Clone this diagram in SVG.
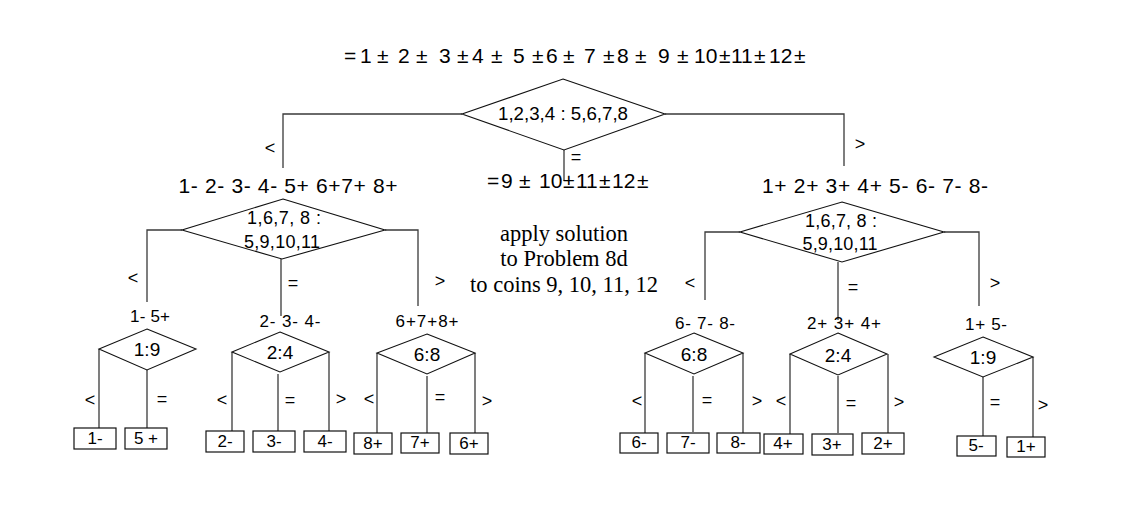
<svg xmlns="http://www.w3.org/2000/svg" width="1132" height="505" viewBox="0 0 1132 505">
<style>
text{font-family:"Liberation Sans",Arial,sans-serif;fill:#000}
.serif{font-family:"Liberation Serif","Times New Roman",serif;font-size:22.5px;text-anchor:middle}
.eq{font-size:21px}
.lvl{font-size:21px;text-anchor:middle}
.dt{font-size:18px;text-anchor:middle}
.d3{font-size:19px;text-anchor:middle}
.lab{font-size:18px;text-anchor:middle}
.sub{font-size:17px;text-anchor:middle}
.bx{font-size:17px;text-anchor:middle}
.dia{fill:none;stroke:#111;stroke-width:1.1}
.box{fill:#fff;stroke:#111;stroke-width:1.2}
.con{fill:none;stroke:#3a3a3a;stroke-width:1.3}
</style>
<rect width="1132" height="505" fill="#fff"/>

<g id="top-equation">
<text class="eq" y="63"><tspan x="344">=</tspan><tspan x="360">1</tspan><tspan x="377">±</tspan><tspan x="398">2</tspan><tspan x="416">±</tspan><tspan x="439">3</tspan><tspan x="457">±</tspan><tspan x="472">4</tspan><tspan x="491">±</tspan><tspan x="513">5</tspan><tspan x="532">±</tspan><tspan x="546">6</tspan><tspan x="563">±</tspan><tspan x="584">7</tspan><tspan x="603">±</tspan><tspan x="617">8</tspan><tspan x="635">±</tspan><tspan x="658">9</tspan><tspan x="677">±</tspan><tspan x="694">10</tspan><tspan x="719">±</tspan><tspan x="731">11</tspan><tspan x="754">±</tspan><tspan x="769">12</tspan><tspan x="794">±</tspan></text>
</g>

<g id="connectors">
<polyline class="con" points="462,114 283,114 283,168"/>
<polyline class="con" points="665,114 844,114 844,166"/>
<line class="con" x1="564" y1="150" x2="564" y2="181"/>
<polyline class="con" points="182,230 147,230 147,302"/>
<polyline class="con" points="385,230 418,230 418,306"/>
<line class="con" x1="281" y1="259" x2="281" y2="316"/>
<polyline class="con" points="740,232 705,232 705,300"/>
<polyline class="con" points="944,232 979,232 979,306"/>
<line class="con" x1="838" y1="262" x2="838" y2="320"/>
<line class="con" x1="99" y1="349" x2="99" y2="430"/>
<line class="con" x1="147" y1="370" x2="147" y2="428"/>
<line class="con" x1="232" y1="352" x2="232" y2="437"/>
<line class="con" x1="278" y1="374" x2="278" y2="431"/>
<line class="con" x1="329" y1="352" x2="329" y2="435"/>
<line class="con" x1="377" y1="353" x2="377" y2="433"/>
<line class="con" x1="427" y1="376" x2="427" y2="433"/>
<line class="con" x1="475" y1="353" x2="475" y2="433"/>
<line class="con" x1="645" y1="353" x2="645" y2="433"/>
<line class="con" x1="693" y1="376" x2="693" y2="432"/>
<line class="con" x1="743" y1="353" x2="743" y2="433"/>
<line class="con" x1="790" y1="354" x2="790" y2="437"/>
<line class="con" x1="838" y1="376" x2="838" y2="433"/>
<line class="con" x1="888" y1="354" x2="888" y2="437"/>
<line class="con" x1="983" y1="377" x2="983" y2="436"/>
<line class="con" x1="1033" y1="357" x2="1033" y2="437"/>

<text class="lab" x="270" y="154">&lt;</text>
<text class="lab" x="860" y="150">&gt;</text>
<text class="lab" x="576" y="163">=</text>
<text class="lab" x="133" y="284">&lt;</text>
<text class="lab" x="293" y="289">=</text>
<text class="lab" x="440" y="287">&gt;</text>
<text class="lab" x="690" y="289">&lt;</text>
<text class="lab" x="853" y="293">=</text>
<text class="lab" x="995" y="289">&gt;</text>
<text class="lab" x="90" y="406">&lt;</text>
<text class="lab" x="162" y="405">=</text>
<text class="lab" x="222" y="406">&lt;</text>
<text class="lab" x="290" y="406">=</text>
<text class="lab" x="341" y="405">&gt;</text>
<text class="lab" x="369" y="405">&lt;</text>
<text class="lab" x="440" y="403">=</text>
<text class="lab" x="487" y="407">&gt;</text>
<text class="lab" x="637" y="407">&lt;</text>
<text class="lab" x="707" y="406">=</text>
<text class="lab" x="757" y="407">&gt;</text>
<text class="lab" x="781" y="407">&lt;</text>
<text class="lab" x="851" y="409">=</text>
<text class="lab" x="899" y="408">&gt;</text>
<text class="lab" x="995" y="408">=</text>
<text class="lab" x="1043" y="411">&gt;</text>
</g>

<g id="root">
<polygon class="dia" points="563,79 665,114 564,150 462,114"/>
<text class="dt" x="563" y="120" textLength="130" lengthAdjust="spacingAndGlyphs">1,2,3,4 : 5,6,7,8</text>
</g>

<g id="left-state">
<text class="lvl" x="288" y="193" textLength="219" lengthAdjust="spacing">1- 2- 3- 4- 5+ 6+7+ 8+</text>
</g>

<g id="middle-state">
<text class="eq" y="188"><tspan x="487">=</tspan><tspan x="501">9</tspan><tspan x="519">±</tspan><tspan x="539">10</tspan><tspan x="563">±</tspan><tspan x="576">11</tspan><tspan x="599">±</tspan><tspan x="612">12</tspan><tspan x="637">±</tspan></text>
</g>

<g id="right-state">
<text class="lvl" x="875" y="193" textLength="226" lengthAdjust="spacing">1+ 2+ 3+ 4+ 5- 6- 7- 8-</text>
</g>

<g id="apply-note">
<text class="serif" x="564" y="241">apply solution</text>
<text class="serif" x="564" y="266">to Problem 8d</text>
<text class="serif" x="564" y="292">to coins 9, 10, 11, 12</text>
</g>

<g id="left-weigh">
<polygon class="dia" points="283,199 385,230 282,259 182,230"/>
<text class="dt" x="284" y="224" textLength="74" lengthAdjust="spacing">1,6,7, 8 :</text>
<text class="dt" x="282" y="248" textLength="76" lengthAdjust="spacing">5,9,10,11</text>
</g>

<g id="right-weigh">
<polygon class="dia" points="842,202 944,232 842,262 740,232"/>
<text class="dt" x="841" y="227" textLength="72" lengthAdjust="spacing">1,6,7, 8 :</text>
<text class="dt" x="840" y="250" textLength="75" lengthAdjust="spacing">5,9,10,11</text>
</g>

<g id="L1-9">
<text class="sub" x="150" y="322" textLength="40" lengthAdjust="spacing">1- 5+</text>
<polygon class="dia" points="147,329 196,349 147,370 99,349"/>
<text class="d3" x="147" y="356">1:9</text>
</g>
<g id="L2-4">
<text class="sub" x="290" y="327" textLength="61" lengthAdjust="spacing">2- 3- 4-</text>
<polygon class="dia" points="280,332 329,352 280,372 232,352"/>
<text class="d3" x="280" y="359">2:4</text>
</g>
<g id="L6-8">
<text class="sub" x="427" y="327" textLength="63" lengthAdjust="spacing">6+7+8+</text>
<polygon class="dia" points="427,334 475,353 427,374 377,353"/>
<text class="d3" x="427" y="361">6:8</text>
</g>
<g id="R6-8">
<text class="sub" x="705" y="329" textLength="60" lengthAdjust="spacing">6- 7- 8-</text>
<polygon class="dia" points="694,333 743,353 694,374 645,353"/>
<text class="d3" x="694" y="361">6:8</text>
</g>
<g id="R2-4">
<text class="sub" x="844" y="329" textLength="74" lengthAdjust="spacing">2+ 3+ 4+</text>
<polygon class="dia" points="838,333 887,354 838,375 790,354"/>
<text class="d3" x="838" y="362">2:4</text>
</g>
<g id="R1-9">
<text class="sub" x="986" y="330" textLength="42" lengthAdjust="spacing">1+ 5-</text>
<polygon class="dia" points="983,337 1033,357 983,377 934,357"/>
<text class="d3" x="983" y="364">1:9</text>
</g>

<g id="leaf-1m"><rect class="box" x="74" y="428" width="42" height="21"/><text class="bx" x="95" y="444">1-</text></g>
<g id="leaf-5p"><rect class="box" x="125" y="428" width="42" height="21"/><text class="bx" x="146" y="444">5 +</text></g>
<g id="leaf-2m"><rect class="box" x="206" y="431" width="38" height="21"/><text class="bx" x="225" y="447">2-</text></g>
<g id="leaf-3m"><rect class="box" x="253" y="431" width="42" height="21"/><text class="bx" x="274" y="447">3-</text></g>
<g id="leaf-4m"><rect class="box" x="304" y="431" width="42" height="21"/><text class="bx" x="325" y="447">4-</text></g>
<g id="leaf-8p"><rect class="box" x="354" y="433" width="38" height="21"/><text class="bx" x="373" y="449">8+</text></g>
<g id="leaf-7p"><rect class="box" x="401" y="433" width="38" height="20"/><text class="bx" x="420" y="448">7+</text></g>
<g id="leaf-6p"><rect class="box" x="450" y="433" width="38" height="21"/><text class="bx" x="469" y="449">6+</text></g>
<g id="leaf-6m"><rect class="box" x="620" y="433" width="38" height="20"/><text class="bx" x="639" y="448">6-</text></g>
<g id="leaf-7m"><rect class="box" x="667" y="433" width="42" height="20"/><text class="bx" x="688" y="448">7-</text></g>
<g id="leaf-8m"><rect class="box" x="717" y="433" width="43" height="20"/><text class="bx" x="738" y="448">8-</text></g>
<g id="leaf-4p"><rect class="box" x="764" y="434" width="39" height="20"/><text class="bx" x="783" y="449">4+</text></g>
<g id="leaf-3p"><rect class="box" x="812" y="434" width="41" height="21"/><text class="bx" x="832" y="450">3+</text></g>
<g id="leaf-2p"><rect class="box" x="862" y="433" width="42" height="21"/><text class="bx" x="883" y="449">2+</text></g>
<g id="leaf-5m"><rect class="box" x="957" y="436" width="39" height="20"/><text class="bx" x="976" y="451">5-</text></g>
<g id="leaf-1p"><rect class="box" x="1007" y="437" width="38" height="20"/><text class="bx" x="1026" y="452">1+</text></g>
</svg>
